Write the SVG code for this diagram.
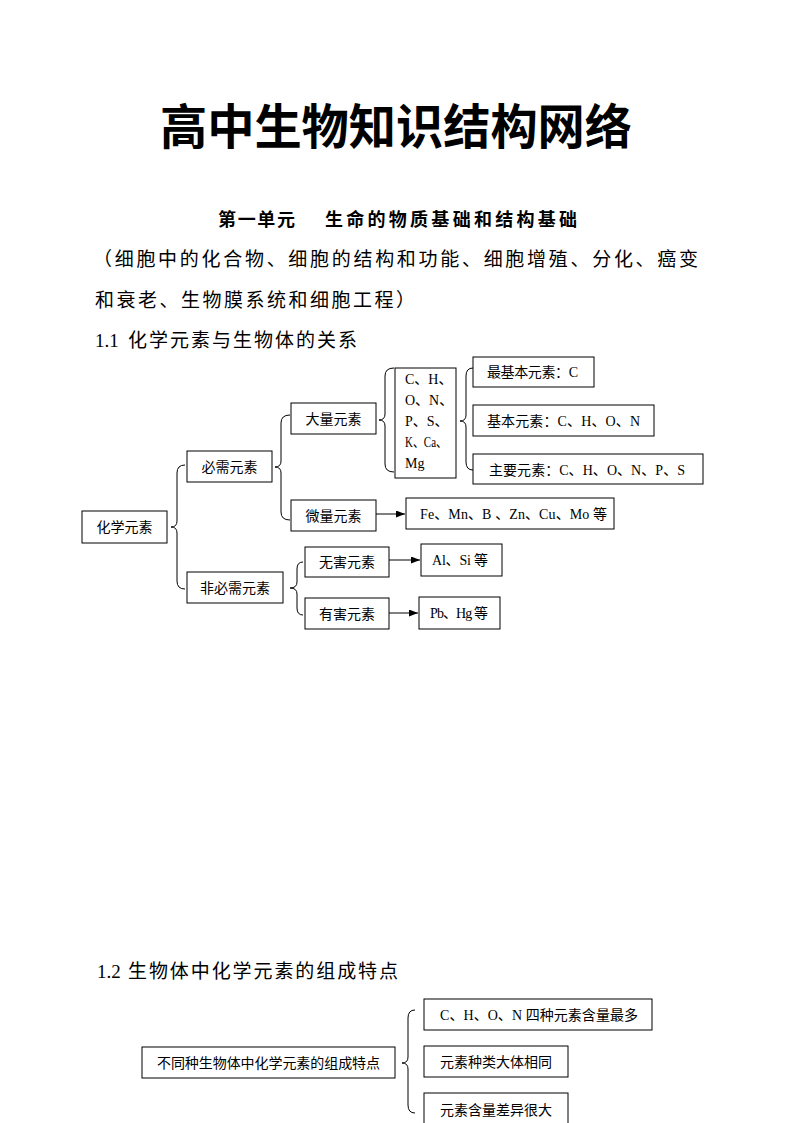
<svg xmlns="http://www.w3.org/2000/svg" width="794" height="1123" viewBox="0 0 794 1123">
<style>
.bg{fill:#fff}
.box{fill:#fff;stroke:#000;stroke-width:1}
.br{fill:none;stroke:#000;stroke-width:1}
.ln{fill:none;stroke:#000;stroke-width:1}
.t{font-family:"Liberation Serif","Noto Sans CJK SC",serif;font-size:14px;fill:#000}
.c{text-anchor:middle}
.title{font-family:"Noto Sans CJK SC",sans-serif;font-size:48px;font-weight:700;fill:#000}
.sub{font-family:"Liberation Serif","Noto Sans CJK SC",serif;font-size:18px;font-weight:700;fill:#000}
.p{font-family:"Liberation Serif","Noto Sans CJK SC",serif;font-size:19px;fill:#000}
</style>
<defs>
<marker id="ah" markerUnits="userSpaceOnUse" markerWidth="9" markerHeight="7" refX="9" refY="3.5" orient="auto">
<path d="M0,0 L9,3.5 L0,7 z" fill="#000"/>
</marker>
</defs>
<rect class="bg" x="0" y="0" width="794" height="1123"/>

<g id="heading">
<text class="title" x="160" y="144" textLength="472" lengthAdjust="spacingAndGlyphs">高中生物知识结构网络</text>
<text class="sub" x="218" y="226" textLength="77" lengthAdjust="spacing">第一单元</text>
<text class="sub" x="325" y="226" textLength="252" lengthAdjust="spacing">生命的物质基础和结构基础</text>
<text class="p" x="93" y="266" textLength="605" lengthAdjust="spacing">（细胞中的化合物、细胞的结构和功能、细胞增殖、分化、癌变</text>
<text class="p" x="95" y="307" textLength="320" lengthAdjust="spacing">和衰老、生物膜系统和细胞工程）</text>
<text class="p" x="95" y="347">1.1</text>
<text class="p" x="128" y="347" textLength="229" lengthAdjust="spacing">化学元素与生物体的关系</text>
<text class="p" x="97" y="978">1.2</text>
<text class="p" x="128" y="978" textLength="270" lengthAdjust="spacing">生物体中化学元素的组成特点</text>
</g>

<g id="connectors">
<path class="br" d="M185,465 Q177,465 177,473 L177,521 Q177,527 171,527 Q177,527 177,533 L177,581 Q177,589 185,589"/>
<path class="br" d="M290,415 Q281,415 281,423 L281,461 Q281,467 275,467 Q281,467 281,473 L281,512 Q281,520 290,520"/>
<path class="br" d="M394,368 Q385,368 385,376 L385,414 Q385,420 379,420 Q385,420 385,426 L385,464 Q385,472 394,472"/>
<path class="br" d="M473,368 Q466,368 466,376 L466,415 Q466,421 460,421 Q466,421 466,427 L466,462 Q466,470 473,470"/>
<path class="br" d="M303,562 Q297,562 297,569 L297,582 Q297,588 290,588 Q297,588 297,594 L297,608 Q297,615 303,615"/>
<path class="br" d="M415,1010 Q408,1010 408,1018 L408,1057 Q408,1063 402,1063 Q408,1063 408,1069 L408,1105 Q408,1113 415,1113"/>
<path class="ln" d="M376,514 H405" marker-end="url(#ah)"/>
<path class="ln" d="M389,560 H420" marker-end="url(#ah)"/>
<path class="ln" d="M389,613 H418" marker-end="url(#ah)"/>
</g>

<g id="n1"><rect class="box" x="82" y="511" width="85" height="32"/><text class="t c" x="124.5" y="532">化学元素</text></g>
<g id="n2"><rect class="box" x="187" y="451" width="85" height="31"/><text class="t c" x="229.5" y="472">必需元素</text></g>
<g id="n3"><rect class="box" x="291" y="403" width="85" height="31"/><text class="t c" x="333.5" y="424">大量元素</text></g>
<g id="n4"><rect class="box" x="395" y="368" width="61" height="110"/>
<text class="t" x="405" y="384">C、H、</text>
<text class="t" x="405" y="405">O、N、</text>
<text class="t" x="405" y="426">P、S、</text>
<text class="t" x="405" y="447" textLength="42" lengthAdjust="spacingAndGlyphs">K、Ca、</text>
<text class="t" x="405" y="468">Mg</text></g>
<g id="n5"><rect class="box" x="473" y="357" width="121" height="30"/><text class="t" x="487" y="377" textLength="91" lengthAdjust="spacing">最基本元素：C</text></g>
<g id="n6"><rect class="box" x="473" y="405" width="181" height="31"/><text class="t" x="487" y="426" textLength="153" lengthAdjust="spacing">基本元素：C、H、O、N</text></g>
<g id="n7"><rect class="box" x="473" y="454" width="230" height="30"/><text class="t" x="489" y="475" textLength="196" lengthAdjust="spacing">主要元素：C、H、O、N、P、S</text></g>
<g id="n8"><rect class="box" x="291" y="500" width="85" height="31"/><text class="t c" x="333.5" y="521">微量元素</text></g>
<g id="n9"><rect class="box" x="406" y="498" width="208" height="31"/><text class="t" x="420" y="519" textLength="187" lengthAdjust="spacing">Fe、Mn、B 、Zn、Cu、Mo 等</text></g>
<g id="n10"><rect class="box" x="187" y="572" width="96" height="31"/><text class="t c" x="235" y="593">非必需元素</text></g>
<g id="n11"><rect class="box" x="305" y="547" width="84" height="30"/><text class="t c" x="347" y="567">无害元素</text></g>
<g id="n12"><rect class="box" x="305" y="598" width="84" height="31"/><text class="t c" x="347" y="619">有害元素</text></g>
<g id="n13"><rect class="box" x="421" y="544" width="81" height="32"/><text class="t" x="432" y="565" textLength="56" lengthAdjust="spacing">Al、Si 等</text></g>
<g id="n14"><rect class="box" x="419" y="597" width="81" height="32"/><text class="t" x="430" y="618" textLength="58" lengthAdjust="spacing">Pb、Hg 等</text></g>
<g id="n15"><rect class="box" x="142" y="1047" width="253" height="31"/><text class="t" x="157" y="1068" textLength="223" lengthAdjust="spacing">不同种生物体中化学元素的组成特点</text></g>
<g id="n16"><rect class="box" x="424" y="999" width="228" height="31"/><text class="t" x="440" y="1020" textLength="198" lengthAdjust="spacing">C、H、O、N 四种元素含量最多</text></g>
<g id="n17"><rect class="box" x="424" y="1046" width="144" height="31"/><text class="t" x="440" y="1067" textLength="112" lengthAdjust="spacing">元素种类大体相同</text></g>
<g id="n18"><rect class="box" x="424" y="1093" width="144" height="40"/><text class="t" x="440" y="1115" textLength="112" lengthAdjust="spacing">元素含量差异很大</text></g>
</svg>
